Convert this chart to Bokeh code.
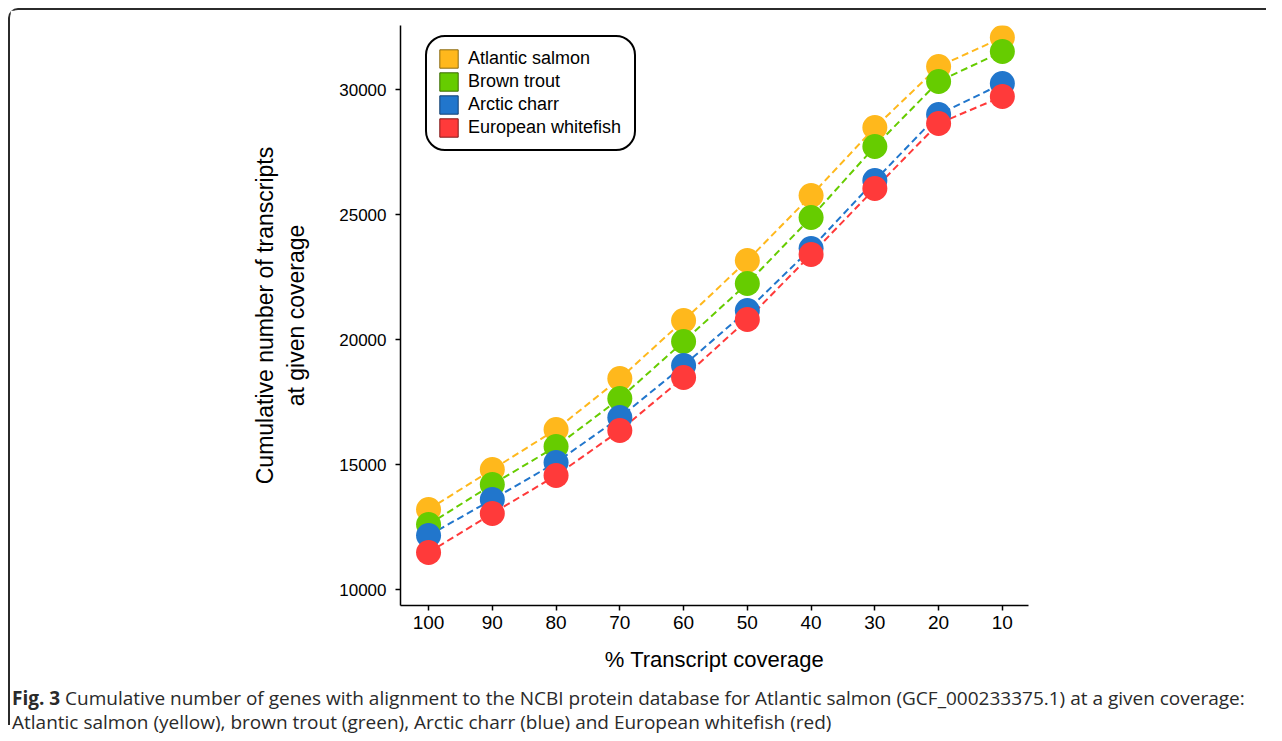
from bokeh.plotting import figure
from bokeh.models import Range1d, FixedTicker, Legend, LegendItem, Div
from bokeh.layouts import column
from bokeh.embed import file_html
from bokeh.resources import INLINE

coverage = [100, 90, 80, 70, 60, 50, 40, 30, 20, 10]
atlantic_salmon = [13200, 14800, 16400, 18440, 20760, 23160, 25760, 28480, 30920, 32080]
brown_trout = [12600, 14200, 15720, 17640, 19920, 22240, 24880, 27720, 30320, 31520]
arctic_charr = [12160, 13600, 15080, 16880, 18960, 21160, 23640, 26360, 29000, 30240]
european_whitefish = [11480, 13040, 14560, 16360, 18480, 20800, 23400, 26040, 28640, 29720]

series_names = ["Atlantic salmon", "Brown trout", "Arctic charr", "European whitefish"]
series_values = [atlantic_salmon, brown_trout, arctic_charr, european_whitefish]
series_colors = ["#FFB81C", "#66CC00", "#2176CC", "#FF3A3A"]
legend_borders = ["#8a6a10", "#3a6a00", "#123f70", "#801818"]

y_ticks = [10000, 15000, 20000, 25000, 30000]

x_title = "% Transcript coverage"
y_title = "Cumulative number of transcripts\nat given coverage"
caption_bold = "Fig. 3"
caption_line1 = ("Cumulative number of genes with alignment to the NCBI protein database "
                 "for Atlantic salmon (GCF_000233375.1) at a given coverage:")
caption_line2 = ("Atlantic salmon (yellow), brown trout (green), Arctic charr (blue) "
                 "and European whitefish (red)")

FONT = "Liberation Sans"
NAN = float("nan")

p = figure(width=1256, height=667, output_backend="svg", toolbar_location=None,
           x_range=Range1d(104.4, 5.9), y_range=Range1d(9360, 32560),
           frame_width=628, frame_height=580,
           min_border_left=390, min_border_right=238, min_border_top=15, min_border_bottom=72)

p.grid.visible = False
p.outline_line_color = None

for vals, col in zip(series_values, series_colors):
    p.line(coverage, vals, line_color=col, line_width=2, line_dash="7 4")
for vals, col in zip(series_values, series_colors):
    p.scatter(coverage, vals, size=25, fill_color=col, line_color=None)

items = []
for name, col, bc in zip(series_names, series_colors, legend_borders):
    r = p.quad(left=[NAN], right=[NAN], top=[NAN], bottom=[NAN],
               fill_color=col, line_color=bc, line_width=1)
    items.append(LegendItem(label=name, renderers=[r]))

legend = Legend(items=items, location=(25, 454), padding=10, spacing=0,
                glyph_width=23, glyph_height=23, label_standoff=8, label_width=156,
                label_height=23,
                label_text_font=FONT, label_text_font_size="18px", label_text_color="black",
                border_line_color="black", border_line_width=2, border_line_alpha=1.0,
                background_fill_color="white", background_fill_alpha=1.0)
try:
    legend.border_radius = 20
except Exception:
    pass
p.add_layout(legend)

p.xaxis.ticker = FixedTicker(ticks=coverage)
p.yaxis.ticker = FixedTicker(ticks=y_ticks)
for ax in (p.xaxis, p.yaxis):
    ax.axis_line_color = "black"
    ax.axis_line_width = 1.5
    ax.major_tick_line_color = "black"
    ax.major_tick_line_width = 1.5
    ax.major_tick_in = 0
    ax.major_tick_out = 5
    ax.minor_tick_line_color = None
    ax.major_label_text_font = FONT
    ax.major_label_text_color = "black"
    ax.axis_label_text_font = FONT
    ax.axis_label_text_font_style = "normal"
    ax.axis_label_text_color = "black"

p.xaxis.major_label_text_font_size = "19px"
p.yaxis.major_label_text_font_size = "17px"
p.xaxis.axis_label = x_title
p.xaxis.axis_label_text_font_size = "22px"
p.xaxis.major_label_standoff = 5
p.xaxis.axis_label_standoff = 15
p.yaxis.axis_label = y_title
p.yaxis.axis_label_text_font_size = "23px"
p.yaxis.major_label_standoff = 9
p.yaxis.axis_label_standoff = 27

cap = Div(text=(f'<div style="position:relative;top:9px">'
                f'<b>{caption_bold}</b> {caption_line1}<br>{caption_line2}</div>'),
          width=1256, margin=(0, 0, 0, 0),
          styles={"font-family": "'Open Sans'", "font-size": "19px", "line-height": "24px",
                  "color": "#2a2a2a", "white-space": "nowrap", "padding-left": "2px"})

inner = column(p, cap, spacing=0,
               styles={"border-top": "2px solid #2b2b2b", "border-left": "2px solid #2b2b2b",
                       "border-top-left-radius": "10px"})
outer = column(inner, styles={"padding-left": "8px", "padding-top": "8px"})

open("out.html", "w").write(file_html(outer, INLINE))
